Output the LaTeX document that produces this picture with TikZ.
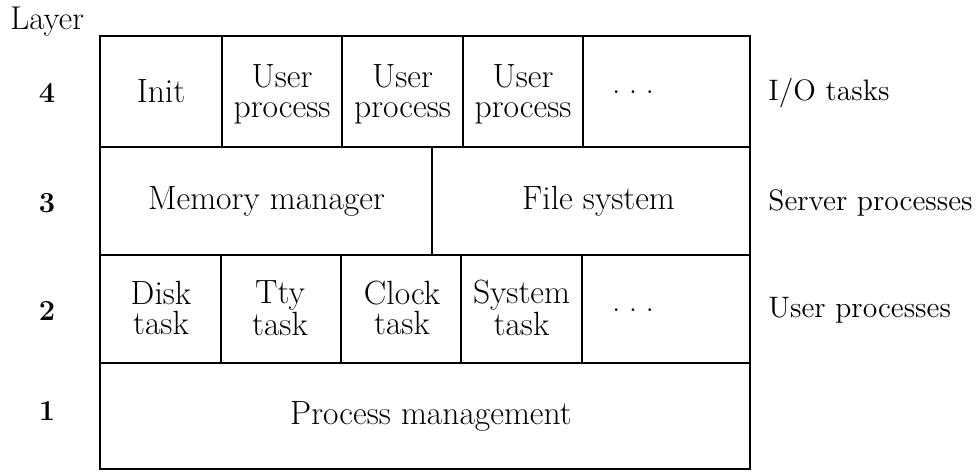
\documentclass[tikz,border=0pt]{standalone}
\begin{document}
\begin{tikzpicture}[x=0.5pt,y=-0.5pt,
  grid/.style={draw=black,line width=1pt},
  boxtext/.style={font=\fontsize{16.8}{14.8}\selectfont,align=center,inner sep=0pt},
  sidetext/.style={font=\fontsize{14.8}{16}\selectfont,anchor=base west,inner sep=0pt},
  layernum/.style={font=\fontsize{14.5}{16}\selectfont\bfseries,anchor=base,inner sep=0pt}]
\useasboundingbox (0,0) rectangle (977,471);
% grid
\draw[grid] (100,36) rectangle (750,469);
\draw[grid] (100,147) -- (750,147);
\draw[grid] (100,255) -- (750,255);
\draw[grid] (100,363) -- (750,363);
\foreach \x in {222,342,463,583} \draw[grid] (\x,36) -- (\x,147);
\draw[grid] (432,147) -- (432,255);
\foreach \x in {221,341,461,582} \draw[grid] (\x,255) -- (\x,363);
% layer numbers
\node[font=\fontsize{16.5}{18}\selectfont,anchor=base west,inner sep=0pt] (layer) at (10,29) {Layer};
\node[layernum] (n4) at (47,102) {4};
\node[layernum] (n3) at (47,212) {3};
\node[layernum] (n2) at (47,320) {2};
\node[layernum] (n1) at (47,420) {1};
% layer 4
\node[boxtext] (init) at (161,91.5) {Init};
\node[boxtext] (up1) at (282,94) {User\\process};
\node[boxtext] (up2) at (402.5,94) {User\\process};
\node[boxtext] (up3) at (523,94) {User\\process};
\node[boxtext] (dots4) at (633,92) {.\kern0.25em.\kern0.25em.};
% layer 3
\node[boxtext] (mm) at (266.5,201) {Memory manager};
\node[boxtext] (fs) at (598.5,201) {File system};
% layer 2
\node[boxtext] (disk) at (161,308) {Disk\\task};
\node[boxtext] (tty) at (280,308) {Tty\\task};
\node[boxtext] (clock) at (402,308) {Clock\\task};
\node[boxtext] (sys) at (521.5,308) {System\\task};
\node[boxtext] (dots2) at (633,310) {.\kern0.25em.\kern0.25em.};
% layer 1
\node[boxtext] (pm) at (431,416) {Process management};
% side labels
\node[sidetext] (io) at (768,100) {I/O tasks};
\node[sidetext] (srv) at (768,210) {Server processes};
\node[sidetext] (usr) at (768,317) {User processes};
\end{tikzpicture}
\end{document}
